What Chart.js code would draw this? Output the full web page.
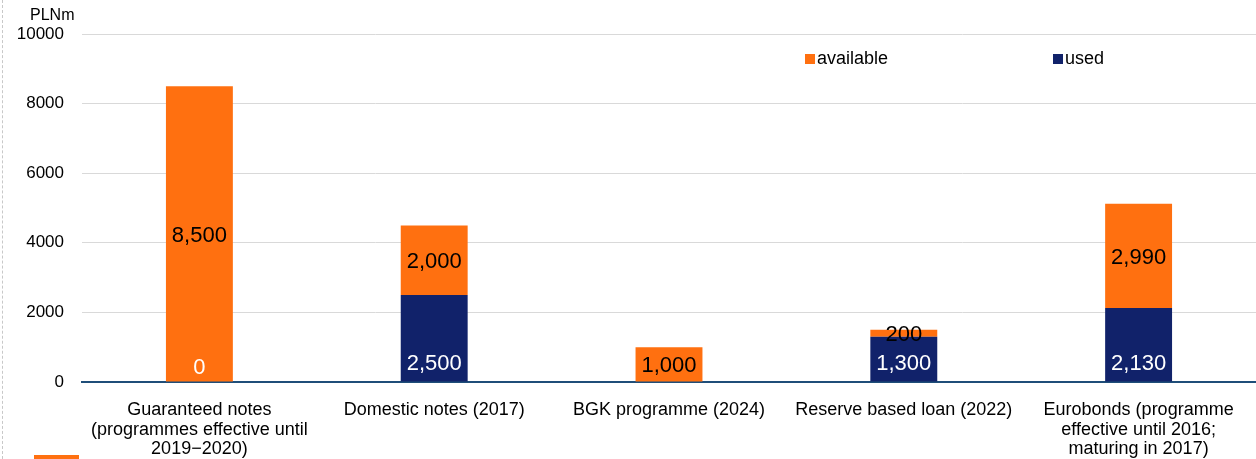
<!DOCTYPE html>
<html>
<head>
<meta charset="utf-8">
<script src="https://cdn.jsdelivr.net/npm/chart.js@4"></script>
<style>
  html, body { margin: 0; padding: 0; background: #fff; }
  #wrap { position: relative; width: 1256px; height: 459px; }
  #edge { position: absolute; left: 2px; top: 0; height: 459px; border-left: 1px dashed #c8c8c8; }
  #mark { position: absolute; left: 34px; top: 455px; width: 45px; height: 4px; background: #ff7010; }
</style>
</head>
<body>
<div id="wrap">
  <canvas id="chart" width="1256" height="459"></canvas>
  <div id="edge"></div>
  <div id="mark"></div>
</div>
<script>
const categories = [
    ['Guaranteed notes', '(programmes effective until', '2019\u22122020)'],
    'Domestic notes (2017)',
    'BGK programme (2024)',
    'Reserve based loan (2022)',
    ['Eurobonds (programme', 'effective until 2016;', 'maturing in 2017)'],
];
const usedValues = [0, 2500, 0, 1300, 2130];
const availableValues = [8500, 2000, 1000, 200, 2990];
const usedLabels = ['0', '2,500', '', '1,300', '2,130'];
const availableLabels = ['8,500', '2,000', '1,000', '200', '2,990'];
const yTicks = [0, 2000, 4000, 6000, 8000, 10000];

const ORANGE = '#ff7010';
const NAVY = '#11226a';
const FONT = '"Liberation Sans", Arial, sans-serif';

// labels inside bars: navy ones near the base, orange ones centred
const barLabels = {
    id: 'barLabels',
    afterDatasetsDraw(chart) {
        const ctx = chart.ctx;
        const yScale = chart.scales.y;
        ctx.save();
        ctx.font = '22px ' + FONT;
        ctx.textAlign = 'center';
        ctx.textBaseline = 'middle';
        chart.getDatasetMeta(1).data.forEach((bar, i) => {
            ctx.fillStyle = '#000';
            ctx.fillText(availableLabels[i], bar.x, (bar.y + bar.base) / 2 + 2);
        });
        chart.getDatasetMeta(0).data.forEach((bar, i) => {
            if (!usedLabels[i]) return;
            ctx.fillStyle = '#fff';
            const y = usedValues[i] === 0 ? yScale.getPixelForValue(0) - 14 : bar.base - 18;
            ctx.fillText(usedLabels[i], bar.x, y);
        });
        ctx.restore();
    },
};

// unit label and the two-entry legend
const extras = {
    id: 'extras',
    afterDraw(chart) {
        const ctx = chart.ctx;
        ctx.save();
        ctx.font = '16px ' + FONT;
        ctx.fillStyle = '#000';
        ctx.textBaseline = 'middle';
        ctx.textAlign = 'left';
        ctx.fillText('PLNm', 30, 16);

        ctx.font = '18px ' + FONT;
        const entries = [
            { text: 'available', color: ORANGE, x: 805 },
            { text: 'used', color: NAVY, x: 1053 },
        ];
        entries.forEach(e => {
            ctx.fillStyle = e.color;
            ctx.fillRect(e.x, 54, 10, 10);
            ctx.fillStyle = '#000';
            ctx.fillText(e.text, e.x + 12, 59);
        });
        ctx.restore();
    },
};

const chart = new Chart(document.getElementById('chart').getContext('2d'), {
    type: 'bar',
    data: {
        labels: categories,
        datasets: [
            {
                label: 'used',
                data: usedValues,
                backgroundColor: NAVY,
                barPercentage: 0.57,
                categoryPercentage: 0.5,
            },
            {
                label: 'available',
                data: availableValues,
                backgroundColor: ORANGE,
                barPercentage: 0.57,
                categoryPercentage: 0.5,
            },
        ],
    },
    options: {
        responsive: false,
        animation: false,
        layout: { padding: { top: 34, right: 0, left: 0, bottom: 0 } },
        plugins: {
            legend: { display: false },
            tooltip: { enabled: false },
        },
        scales: {
            x: {
                stacked: true,
                grid: { display: false },
                border: { color: '#1f4e79', width: 2 },
                ticks: {
                    color: '#000',
                    font: { family: FONT, size: 18, lineHeight: 1.1 },
                    padding: 10,
                    maxRotation: 0,
                    autoSkip: false,
                },
                afterFit(scale) { scale.height = 77; },
            },
            y: {
                stacked: true,
                min: 0,
                max: 10000,
                afterBuildTicks(scale) { scale.ticks = yTicks.map(v => ({ value: v })); },
                grid: { color: '#d9d9d9', drawTicks: false },
                border: { display: false },
                ticks: {
                    color: '#000',
                    font: { family: FONT, size: 17 },
                    padding: 18,
                    callback: v => String(v),
                },
                afterFit(scale) { scale.width = 82; },
            },
        },
    },
    plugins: [barLabels, extras],
});
</script>
</body>
</html>
